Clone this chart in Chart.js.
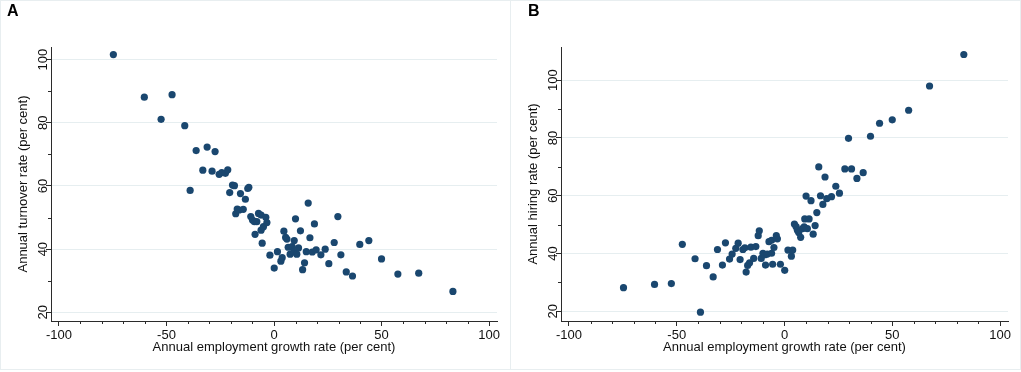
<!DOCTYPE html>
<html>
<head>
<meta charset="utf-8">
<script src="https://cdn.jsdelivr.net/npm/chart.js@4"></script>
<style>
  html, body { margin: 0; padding: 0; background: #fff; }
  #wrap { position: relative; width: 1021px; height: 372px; overflow: hidden; }
  canvas { position: absolute; top: 0; }
  #canvasA { left: 0; }
  #canvasB { left: 510px; }
  .frame { position: absolute; top: 0; height: 370px; width: 511px; box-sizing: border-box;
           border: 1px solid #e8eef0; pointer-events: none; }
</style>
</head>
<body>
<div id="wrap">
  <canvas id="canvasA" width="510" height="372"></canvas>
  <canvas id="canvasB" width="511" height="372"></canvas>
  <div class="frame" style="left:0"></div>
  <div class="frame" style="left:510px"></div>
</div>
<script>
// employment growth per unit (per cent) - same units in both panels
const growth = [
  -74.7, -60.3, -52.5, -47.4, -41.5, -39.0, -36.2, -33.1, -31.1, -28.8,
  -27.4, -25.5, -24.3, -22.6, -21.5, -20.6, -19.3, -18.4, -17.8, -17.1,
  -16.2, -15.6, -14.3, -13.3, -12.2, -11.7, -10.8, -10.0, -9.1, -8.8,
  -8.0, -7.2, -6.0, -6.0, -5.5, -4.9, -3.8, -3.3, -1.9, 0.1,
  1.6, 3.2, 3.8, 4.6, 5.4, 6.0, 6.6, 7.5, 8.4, 9.1,
  9.4, 10.0, 10.6, 11.4, 12.3, 13.3, 14.2, 15.0, 15.9, 16.7,
  17.8, 18.8, 19.6, 21.8, 23.8, 25.5, 28.0, 29.7, 31.1, 33.6,
  36.5, 39.9, 44.1, 50.0, 57.6, 67.3, 83.2
]
// panel A
const turnover = [
  101.6, 88.1, 81.1, 88.9, 79.1, 58.6, 71.2, 65.0, 72.3, 64.7,
  70.9, 63.7, 64.2, 64.0, 65.1, 57.9, 60.3, 60.1, 51.2, 52.7,
  52.4, 57.6, 52.6, 55.8, 59.2, 59.6, 50.3, 49.2, 48.7, 44.7,
  48.7, 51.3, 50.8, 46.0, 41.9, 47.1, 50.1, 48.4, 38.1, 34.0,
  39.2, 36.2, 37.3, 45.7, 43.7, 43.2, 40.6, 38.4, 40.8, 39.1,
  42.7, 49.6, 38.4, 40.4, 45.8, 33.5, 35.7, 39.2, 54.6, 43.6,
  39.1, 48.0, 39.8, 38.2, 40.0, 35.4, 42.1, 50.3, 38.2, 32.8,
  31.5, 41.5, 42.7, 36.9, 32.1, 32.4, 26.6
]
// panel B
const hiring = [
  28.2, 29.3, 29.6, 43.2, 38.2, 19.7, 35.8, 31.9, 41.4, 36.0,
  43.7, 38.1, 39.8, 41.8, 43.6, 37.9, 41.4, 42.0, 33.6, 35.9,
  36.8, 42.2, 38.3, 42.4, 46.2, 47.9, 38.3, 40.1, 39.6, 36.0,
  39.8, 44.1, 44.6, 40.1, 36.3, 42.1, 46.2, 45.1, 36.3, 34.2,
  41.2, 39.1, 41.2, 50.2, 49.3, 48.1, 47.3, 45.6, 48.6, 49.2,
  52.0, 59.9, 48.6, 52.0, 58.3, 46.7, 49.7, 54.2, 70.0, 60.0,
  57.0, 66.5, 59.0, 59.7, 63.3, 60.9, 69.3, 79.9, 69.3, 66.0,
  68.0, 80.6, 85.1, 86.3, 89.6, 98.0, 108.9
]

const xTicks = [-100, -50, 0, 50, 100]
const xMinor = [-90, -80, -70, -60, -40, -30, -20, -10, 10, 20, 30, 40, 60, 70, 80, 90]
const yTicks = [20, 40, 60, 80, 100]
const yMinor = [30, 50, 70, 90]

const xTitle = 'Annual employment growth rate (per cent)'

const DOT = '#1a476f'
const AXIS = '#2b2b2b'
const GRID = '#e6eef0'

Chart.defaults.font.family = '"Liberation Sans", Arial, sans-serif'
Chart.defaults.font.size = 13
Chart.defaults.color = '#111'

// short minor tick marks, placed with the chart's own scales
const minorTicks = {
  id: 'minorTicks',
  afterDraw(chart) {
    const ctx = chart.ctx
    const xs = chart.scales.x
    const ys = chart.scales.y
    ctx.save()
    ctx.strokeStyle = AXIS
    ctx.lineWidth = 1
    ctx.beginPath()
    xMinor.forEach(v => {
      const px = Math.round(xs.getPixelForValue(v)) + 0.5
      ctx.moveTo(px, xs.top)
      ctx.lineTo(px, xs.top + 3)
    })
    yMinor.forEach(v => {
      const py = Math.round(ys.getPixelForValue(v)) + 0.5
      ctx.moveTo(ys.right - 3, py)
      ctx.lineTo(ys.right, py)
    })
    ctx.stroke()
    ctx.restore()
  }
}

const makeChart = (id, letter, yValues, yTitle, yMin, yMax, padLeft) => {
  const points = growth.map((g, i) => ({ x: g, y: yValues[i] }))
  return new Chart(document.getElementById(id), {
    type: 'scatter',
    data: {
      datasets: [{
        data: points,
        backgroundColor: DOT,
        borderColor: DOT,
        borderWidth: 0,
        pointRadius: 3.6,
        pointHoverRadius: 3.6
      }]
    },
    options: {
      responsive: false,
      animation: false,
      layout: { padding: { left: padLeft, right: 13, top: 0, bottom: 0 } },
      plugins: {
        legend: { display: false },
        tooltip: { enabled: false },
        title: {
          display: true,
          text: letter,
          align: 'start',
          color: '#000',
          font: { size: 16, weight: 'bold' },
          padding: { top: 1.5, bottom: 26.3 }
        }
      },
      scales: {
        x: {
          type: 'linear',
          min: -103.7,
          max: 103.7,
          afterBuildTicks: s => { s.ticks = xTicks.map(v => ({ value: v })) },
          afterFit: s => { s.height = 51 },
          border: { color: AXIS, width: 1 },
          grid: { drawOnChartArea: false, tickLength: 5, tickColor: AXIS },
          ticks: { padding: 2, maxRotation: 0, color: '#111' },
          title: { display: true, text: xTitle, color: '#111', padding: { top: 0, bottom: 17 } }
        },
        y: {
          type: 'linear',
          min: yMin,
          max: yMax,
          afterBuildTicks: s => { s.ticks = yTicks.map(v => ({ value: v })) },
          afterFit: s => { s.width = 51 - padLeft },
          border: { color: AXIS, width: 1 },
          grid: { color: GRID, lineWidth: 1, tickLength: 5, tickColor: AXIS },
          ticks: { padding: -8, minRotation: 90, maxRotation: 90, crossAlign: 'center', color: '#111' },
          title: { display: true, text: yTitle, color: '#111', padding: { top: 16.5 - 7.8 - (padLeft - 7), bottom: 0 } }
        }
      }
    },
    plugins: [minorTicks]
  })
}

makeChart('canvasA', 'A', turnover, 'Annual turnover rate (per cent)', 17.25, 104.0, 7)
makeChart('canvasB', 'B', hiring, 'Annual hiring rate (per cent)', 16.65, 111.5, 18)
</script>
</body>
</html>
